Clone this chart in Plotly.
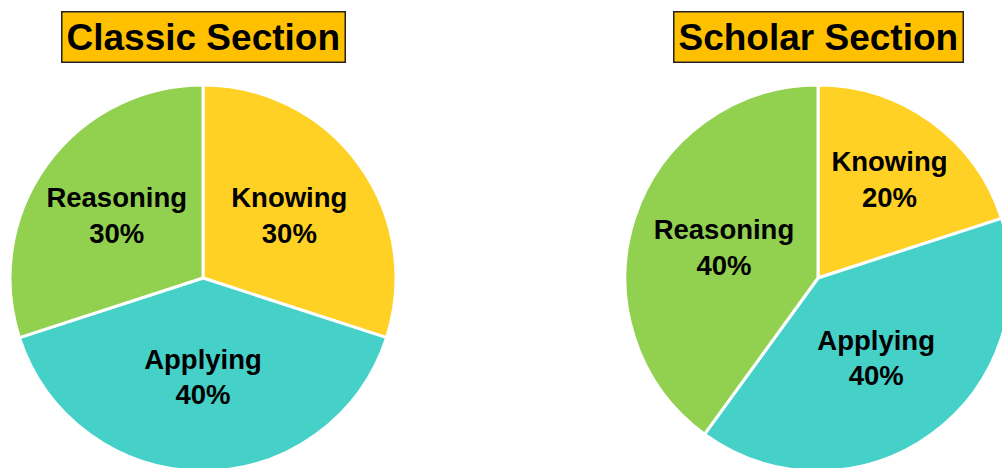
import plotly.graph_objects as go

categories = ["Knowing", "Applying", "Reasoning"]
classic_values = [30, 40, 30]
scholar_values = [20, 40, 40]
titles = ["Classic Section", "Scholar Section"]
colors = ["#FFD124", "#45D0C8", "#92D050"]

# figure slightly larger than the window so pies can be clipped at the edges like the reference
W, H = 1012, 474

fig = go.Figure()

common = dict(
    labels=categories,
    marker=dict(colors=colors, line=dict(color="white", width=3)),
    sort=False,
    direction="clockwise",
    rotation=0,
    texttemplate="%{label}<br>%{percent:.0%}",
    textposition="inside",
    insidetextorientation="horizontal",
    insidetextfont=dict(family="Liberation Sans, Arial, sans-serif", size=27.5, color="black", weight="bold"),
    showlegend=False,
    hoverinfo="label+percent",
)

ylo, yhi = 1 - 471 / H, 1 - 85 / H
fig.add_trace(go.Pie(values=classic_values, name=titles[0],
                     domain=dict(x=[10 / W, 396 / W], y=[ylo, yhi]), **common))
fig.add_trace(go.Pie(values=scholar_values, name=titles[1],
                     domain=dict(x=[625 / W, 1011 / W], y=[ylo, yhi]), **common))

for t, cx in zip(titles, [203, 818]):
    fig.add_annotation(
        text="<b>%s</b>" % t, x=cx / W, y=1 - 37 / H, xref="paper", yref="paper",
        showarrow=False, font=dict(family="Liberation Sans, Arial, sans-serif", size=37, color="black"),
        bgcolor="#FFC000", bordercolor="#222222", borderwidth=1.5, borderpad=4,
        xanchor="center", yanchor="middle",
    )

fig.update_layout(
    width=W, height=H, margin=dict(l=0, r=0, t=0, b=0),
    paper_bgcolor="white", plot_bgcolor="white",
)

fig.write_html(
    "out.html",
    config={"displayModeBar": False},
    post_script="document.body.style.margin='0px';document.body.style.overflow='hidden';",
)
